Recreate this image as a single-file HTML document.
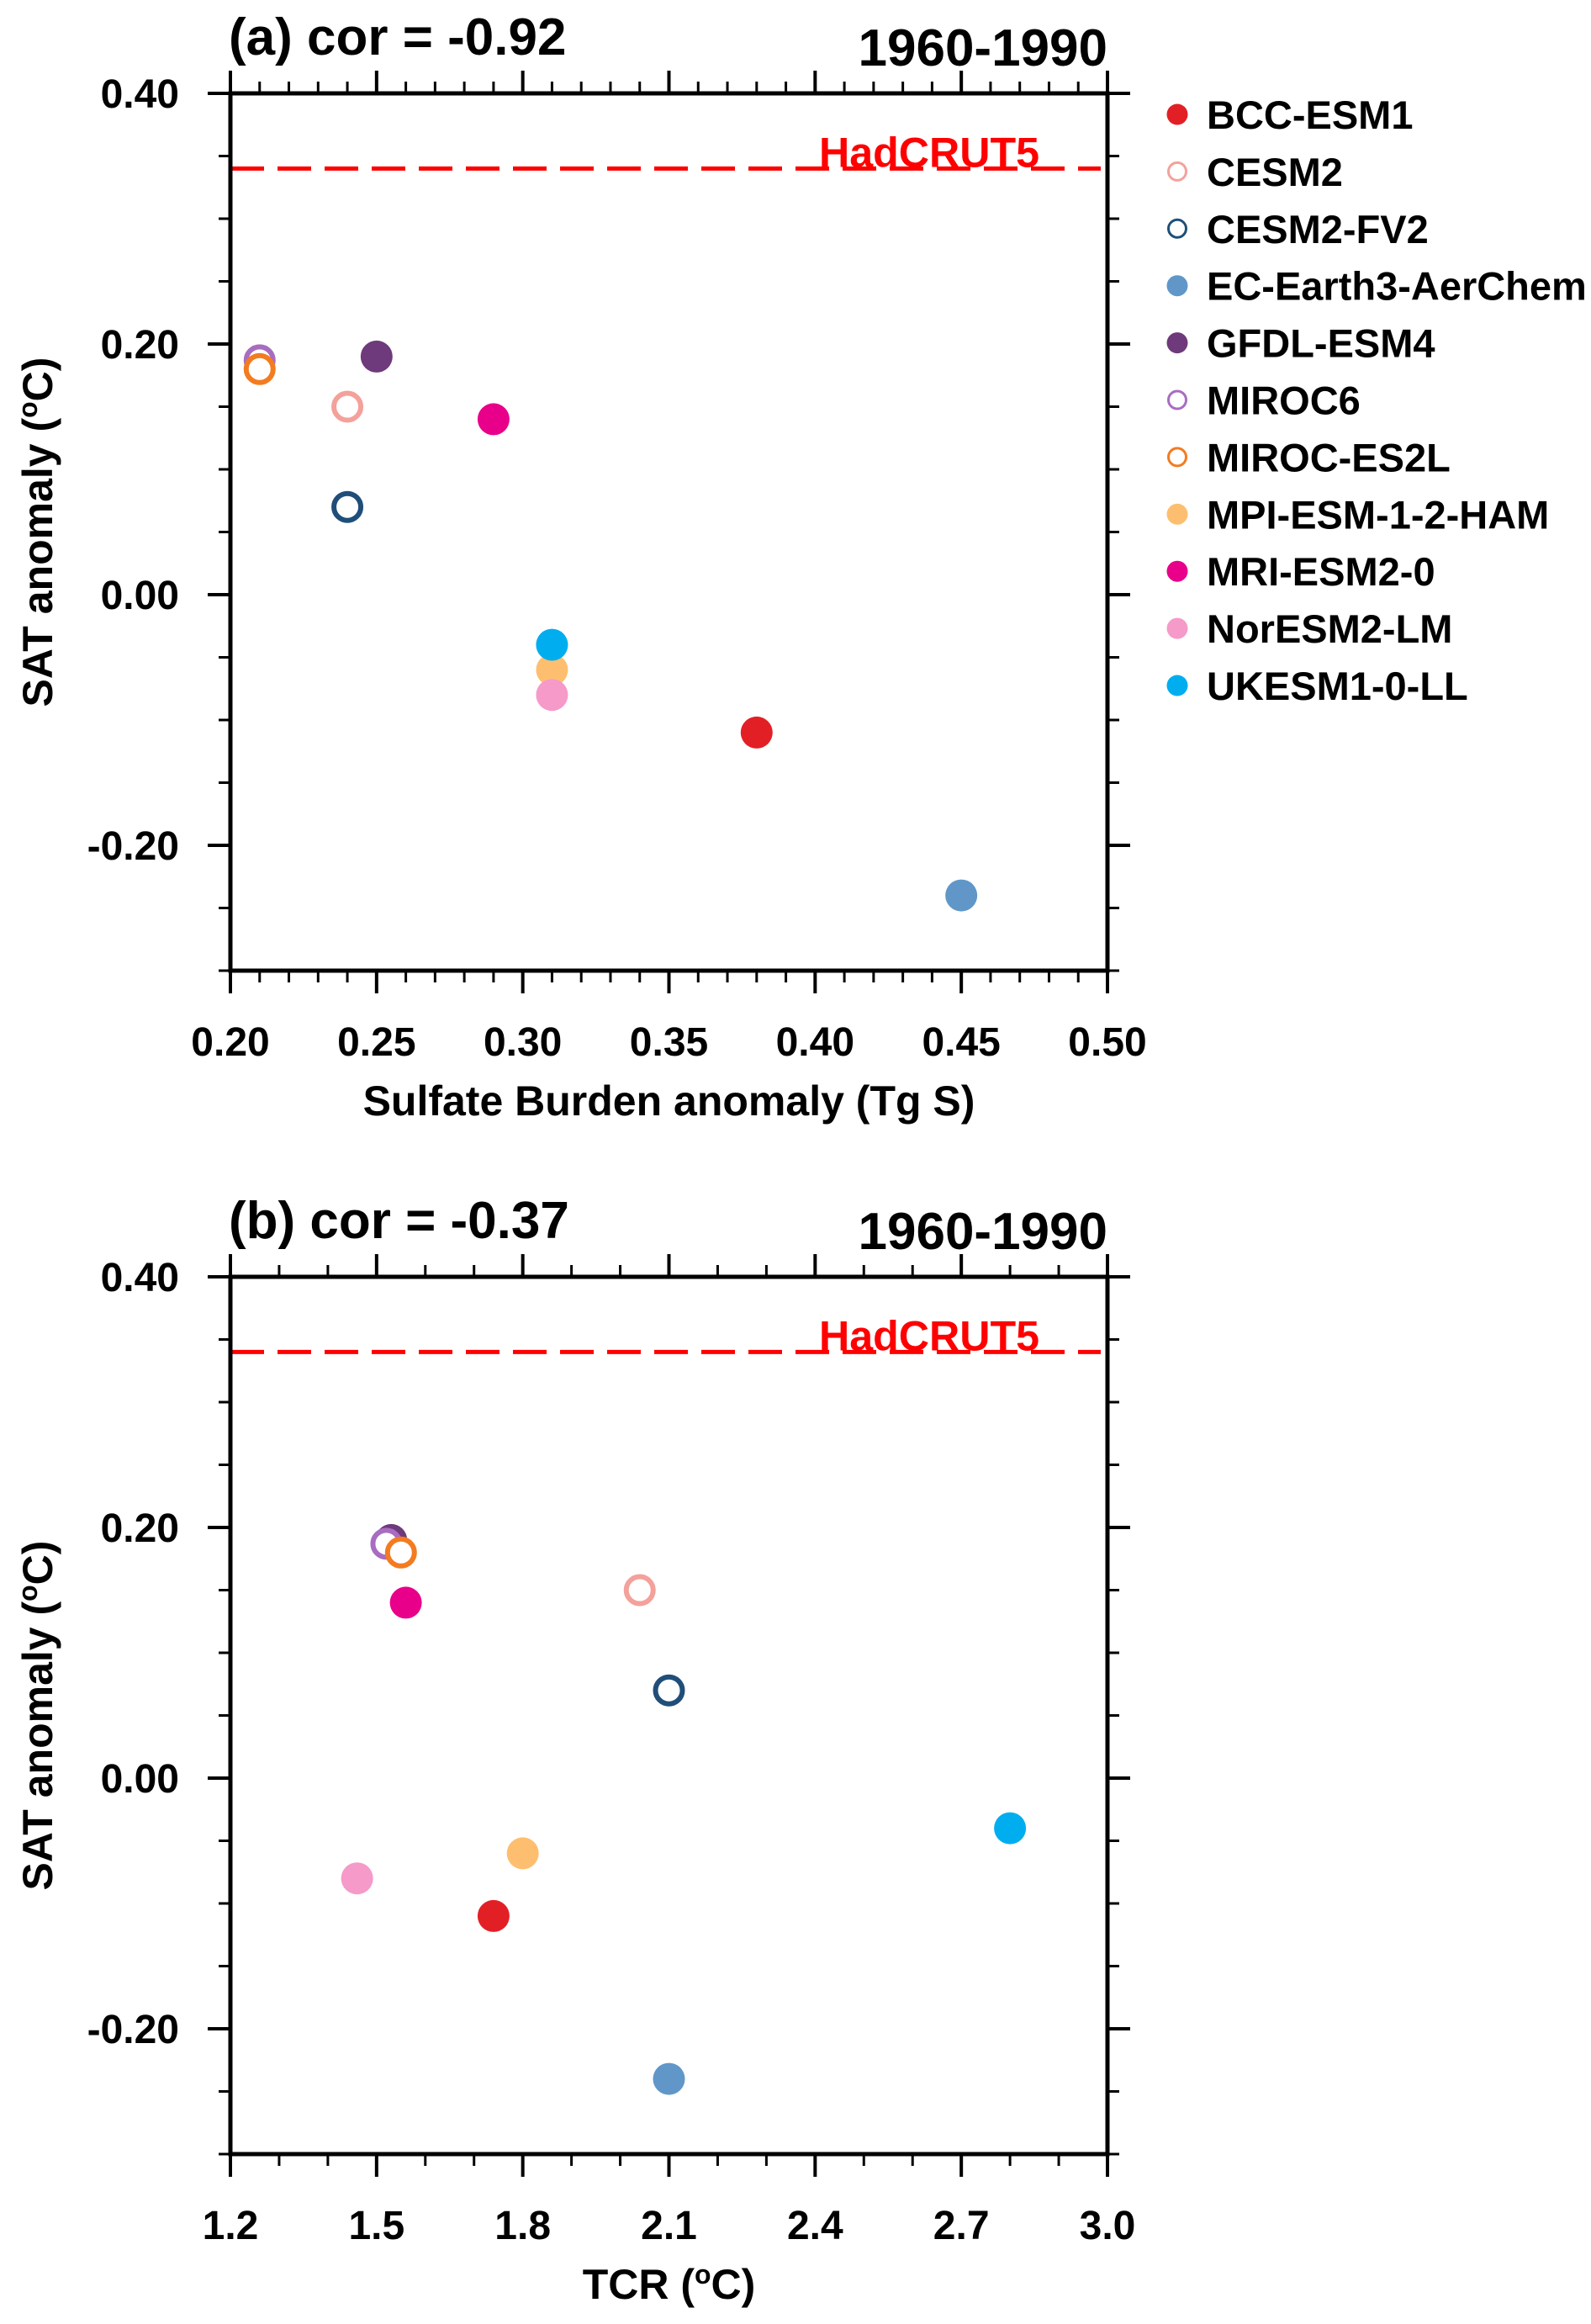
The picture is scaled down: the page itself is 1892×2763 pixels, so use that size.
<!DOCTYPE html>
<html><head><meta charset="utf-8">
<style>
html,body{margin:0;padding:0;background:#fff;}
svg{display:block;font-family:"Liberation Sans",Arial,sans-serif;font-weight:bold;}
</style></head>
<body>
<svg id="fig" width="1892" height="2763" viewBox="0 0 1892 2763" xmlns="http://www.w3.org/2000/svg"></svg>
<script>
const models = ["BCC-ESM1","CESM2","CESM2-FV2","EC-Earth3-AerChem","GFDL-ESM4","MIROC6","MIROC-ES2L","MPI-ESM-1-2-HAM","MRI-ESM2-0","NorESM2-LM","UKESM1-0-LL"];
const colors = ["#e31f26","#f4a19b","#1f4e79","#6097c8","#6e3a7b","#a86cc1","#f37b20","#fdbf6f","#e8008a","#f59ac9","#00aeef"];
const hollow = [false,true,true,false,false,true,true,false,false,false,false];
const satAnomaly = [-0.11,0.15,0.07,-0.24,0.19,0.187,0.18,-0.06,0.14,-0.08,-0.04];
const sulfateBurden = [0.38,0.24,0.24,0.45,0.25,0.21,0.21,0.31,0.29,0.31,0.31];
const tcr = [1.74,2.04,2.10,2.10,1.53,1.52,1.55,1.80,1.56,1.46,2.80];
const hadcrut5 = 0.34;
const yTicks = ["0.40","0.20","0.00","-0.20"];
const xTicksA = ["0.20","0.25","0.30","0.35","0.40","0.45","0.50"];
const xTicksB = ["1.2","1.5","1.8","2.1","2.4","2.7","3.0"];

const NS="http://www.w3.org/2000/svg";
const svg=document.getElementById('fig');
function mk(tag,attrs,parent){const e=document.createElementNS(NS,tag);for(const k in attrs)e.setAttribute(k,attrs[k]);(parent||svg).appendChild(e);return e;}

const L=274,R=1317;
function panel(top,xs,xmin,xmax,xMajor,xMinor,xTickLabels,title,xTitle,pname){
  const bottom=top+1043;
  const g=mk('g',{});
  
  
  const X=v=>L+(v-xmin)/(xmax-xmin)*(R-L);
  const Y=v=>top+(0.4-v)/0.7*(bottom-top);
  const hl=mk('line',{x1:L,x2:R-8,y1:Y(hadcrut5),y2:Y(hadcrut5),stroke:'#ff0000','stroke-width':5,'stroke-dasharray':'40 16'},g);
  
  
  const ht=mk('text',{x:974,y:Y(hadcrut5)-2,'font-size':50,fill:'#ff0000',textLength:262,lengthAdjust:'spacingAndGlyphs'},g);
  ht.textContent='HadCRUT5';
  
  
  for(let i=0;i<models.length;i++){
    const c=hollow[i]?mk('circle',{cx:X(xs[i]),cy:Y(satAnomaly[i]),r:16,fill:'#fff',stroke:colors[i],'stroke-width':6},g)
                     :mk('circle',{cx:X(xs[i]),cy:Y(satAnomaly[i]),r:19,fill:colors[i]},g);
    
    
  }
  const fr=mk('rect',{x:L,y:top,width:R-L,height:bottom-top,fill:'none',stroke:'#000','stroke-width':5},g);
  
  
  const nMinor=Math.round((xmax-xmin)/xMinor);
  for(let k=0;k<=nMinor;k++){
    const v=xmin+k*xMinor;const x=X(v);
    const major=Math.abs((v-xmin)/xMajor-Math.round((v-xmin)/xMajor))<1e-6;
    const len=major?27:14;
    mk('line',{x1:x,x2:x,y1:bottom,y2:bottom+len,stroke:'#000','stroke-width':major?4:3},g);
    mk('line',{x1:x,x2:x,y1:top,y2:top-len,stroke:'#000','stroke-width':major?4:3},g);
  }
  xTickLabels.forEach((s,k)=>{
    const t=mk('text',{x:X(xmin+k*xMajor),y:bottom+101,'font-size':48,'text-anchor':'middle'},g);
    t.textContent=s;
    
    
  });
  for(let k=0;k<=14;k++){
    const v=0.4-k*0.05;const y=Y(v);const major=(k%4===0);
    const len=major?27:14;
    mk('line',{x1:L,x2:L-len,y1:y,y2:y,stroke:'#000','stroke-width':major?4:3},g);
    mk('line',{x1:R,x2:R+len,y1:y,y2:y,stroke:'#000','stroke-width':major?4:3},g);
  }
  yTicks.forEach((s,k)=>{
    const t=mk('text',{x:213,y:Y(0.4-k*0.2)+17,'font-size':48,'text-anchor':'end'},g);
    t.textContent=s;
    
    
  });
  const yt=mk('text',{x:0,y:0,'font-size':50,'text-anchor':'middle',transform:`translate(62,${(top+bottom)/2}) rotate(-90)`},g);
  yt.innerHTML='SAT anomaly (<tspan font-size="32" dy="-18">o</tspan><tspan dy="18">C)</tspan>';
  
  
  const xt=mk('text',{x:(L+R)/2,y:bottom+172,'font-size':50,'text-anchor':'middle'},g);
  xt.innerHTML=xTitle;
  
  
  const tt=mk('text',{x:272,y:top-46,'font-size':62},g);
  tt.textContent=title;
  
  
  const pr=mk('text',{x:R,y:top-33,'font-size':62,'text-anchor':'end'},g);
  pr.textContent='1960-1990';
  
  
}
panel(111,sulfateBurden,0.20,0.50,0.05,0.01,xTicksA,'(a) cor = -0.92','Sulfate Burden anomaly (Tg S)','panel-a');
panel(1518,tcr,1.2,3.0,0.3,0.1,xTicksB,'(b) cor = -0.37','TCR (<tspan font-size="32" dy="-18">o</tspan><tspan dy="18">C)</tspan>','panel-b');

const lg=mk('g',{});


models.forEach((m,i)=>{
  const y=136+i*67.9;
  const c=hollow[i]?mk('circle',{cx:1400,cy:y,r:10.5,fill:'#fff',stroke:colors[i],'stroke-width':3},lg)
                   :mk('circle',{cx:1400,cy:y,r:12.5,fill:colors[i]},lg);
  
  
  const t=mk('text',{x:1435,y:y+17,'font-size':47},lg);
  t.textContent=m;
  
  
});
</script>
</body></html>
